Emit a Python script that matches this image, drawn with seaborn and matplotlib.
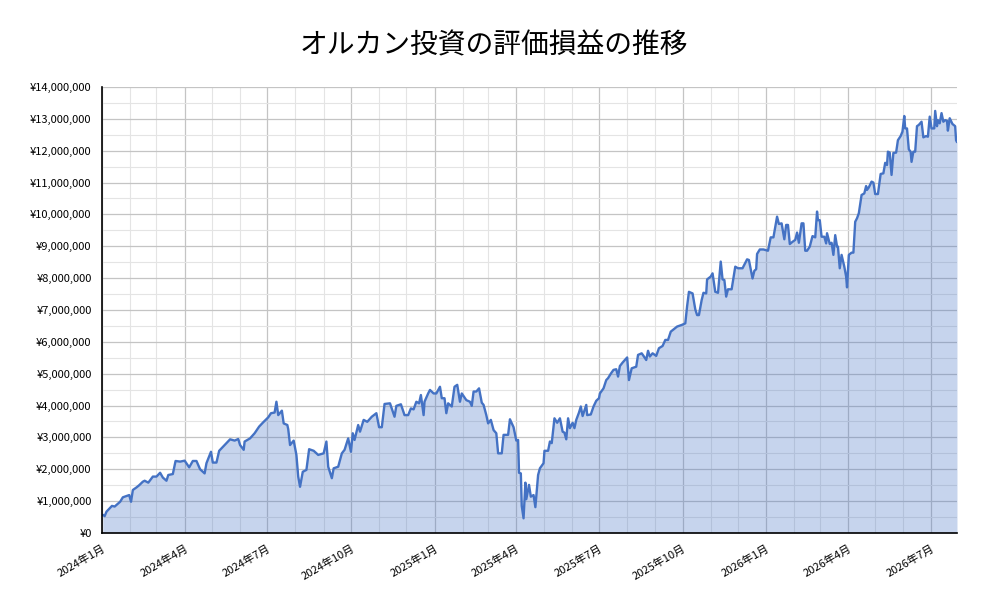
"""
オルカン投資の評価損益の推移 - area chart of unrealised profit/loss
"""

import pandas as pd
import numpy as np
import matplotlib
matplotlib.use('Agg')
import matplotlib.pyplot as plt
import matplotlib.dates as mdates
import matplotlib.ticker as mticker
import seaborn as sns

# days since 2024-01-01 and profit/loss in millions of yen
start_date = '2024-01-01'
days = [
    1, 3, 5, 11, 14, 20, 23, 30, 32, 34, 38, 41, 45, 47, 51, 56, 60, 64, 67, 71,
    73, 78, 81, 86, 91, 96, 100, 104, 108, 113, 115, 120, 122, 126, 129, 135, 141, 146, 150, 152,
    156, 157, 163, 168, 173, 178, 183, 186, 190, 192, 194, 198, 200, 204, 205, 207, 211, 214, 216, 218,
    221, 225, 228, 233, 238, 244, 247, 249, 253, 255, 260, 264, 267, 271, 274, 276, 278, 282, 284, 288,
    292, 297, 302, 305, 308, 311, 317, 322, 324, 329, 333, 337, 340, 343, 346, 349, 351, 354, 355, 359,
    361, 365, 368, 372, 374, 377, 379, 381, 385, 388, 391, 394, 396, 401, 405, 407, 409, 412, 415, 418,
    420, 423, 425, 428, 431, 434, 436, 440, 442, 447, 449, 453, 456, 458, 459, 461, 462, 464, 466, 467,
    470, 472, 475, 477, 480, 482, 486, 487, 491, 493, 495, 498, 501, 504, 507, 509, 511, 513, 515, 518,
    520, 522, 525, 527, 529, 533, 534, 538, 541, 544, 547, 548, 552, 555, 557, 560, 563, 566, 568, 570,
    573, 577, 578, 580, 583, 588, 590, 594, 596, 599, 601, 603, 606, 610, 613, 617, 620, 623, 626, 629,
    633, 638, 642, 644, 646, 650, 653, 655, 657, 660, 662, 665, 666, 670, 672, 675, 678, 681, 683, 685,
    687, 689, 693, 697, 700, 705, 710, 712, 716, 718, 720, 721, 724, 728, 733, 736, 739, 743, 745, 748,
    751, 753, 755, 757, 760, 763, 765, 767, 770, 772, 774, 776, 779, 782, 785, 787, 788, 790, 792, 795,
    797, 798, 801, 803, 805, 807, 809, 810, 812, 814, 817, 819, 820, 822, 825, 827, 829, 831, 833, 836,
    839, 841, 842, 844, 847, 849, 851, 854, 857, 860, 862, 864, 865, 867, 869, 871, 874, 876, 879, 881,
    883, 884, 886, 888, 890, 891, 893, 895, 897, 899, 902, 904, 907, 909, 911, 913, 916, 917, 919, 920,
    922, 924, 926, 928, 930, 931, 933, 936, 939, 940, 941,
]
values_m = [
    0.57, 0.53, 0.67, 0.85, 0.83, 0.98, 1.12, 1.19, 0.98, 1.35, 1.43, 1.50, 1.61, 1.64, 1.58, 1.77, 1.77, 1.89, 1.74, 1.64,
    1.82, 1.85, 2.26, 2.24, 2.27, 2.06, 2.26, 2.26, 2.00, 1.87, 2.19, 2.55, 2.21, 2.21, 2.58, 2.76, 2.94, 2.90, 2.95, 2.76,
    2.61, 2.87, 2.97, 3.13, 3.34, 3.49, 3.63, 3.76, 3.78, 4.12, 3.70, 3.84, 3.44, 3.39, 3.26, 2.76, 2.90, 2.45, 1.77, 1.45,
    1.92, 1.98, 2.63, 2.58, 2.45, 2.50, 2.87, 2.08, 1.72, 2.03, 2.08, 2.50, 2.61, 2.97, 2.55, 3.13, 2.92, 3.39, 3.18, 3.55,
    3.49, 3.65, 3.76, 3.32, 3.32, 4.05, 4.07, 3.65, 3.99, 4.04, 3.70, 3.70, 3.91, 3.88, 4.12, 4.07, 4.33, 3.70, 4.12, 4.38,
    4.49, 4.38, 4.38, 4.59, 4.23, 4.23, 3.76, 4.07, 3.97, 4.59, 4.65, 4.12, 4.38, 4.17, 4.12, 3.99, 4.44, 4.44, 4.54, 4.09,
    4.02, 3.70, 3.44, 3.55, 3.23, 3.13, 2.50, 2.50, 3.08, 3.08, 3.57, 3.32, 2.90, 2.92, 1.89, 1.87, 0.85, 0.46, 1.58, 1.06,
    1.51, 1.14, 1.19, 0.81, 1.82, 2.03, 2.19, 2.58, 2.58, 2.87, 2.82, 3.60, 3.46, 3.60, 3.18, 3.15, 2.94, 3.60, 3.29, 3.46,
    3.29, 3.55, 3.78, 3.97, 3.67, 4.02, 3.70, 3.72, 3.97, 4.15, 4.23, 4.38, 4.54, 4.80, 4.86, 5.00, 5.12, 5.14, 4.91, 5.24,
    5.35, 5.48, 5.51, 4.80, 5.17, 5.22, 5.59, 5.64, 5.56, 5.43, 5.72, 5.54, 5.64, 5.56, 5.80, 5.87, 6.06, 6.06, 6.32, 6.39,
    6.48, 6.53, 6.58, 7.12, 7.57, 7.52, 7.02, 6.84, 6.84, 7.31, 7.54, 7.52, 7.96, 8.05, 8.15, 7.57, 7.54, 8.52, 7.96, 7.94,
    7.42, 7.65, 7.65, 8.36, 8.31, 8.31, 8.59, 8.57, 7.99, 8.23, 8.28, 8.76, 8.90, 8.90, 8.86, 9.28, 9.28, 9.93, 9.70, 9.72,
    9.22, 9.67, 9.67, 9.07, 9.14, 9.20, 9.43, 9.11, 9.72, 9.72, 8.86, 8.86, 8.99, 9.32, 9.28, 10.09, 9.82, 9.82, 9.30, 9.30,
    9.09, 9.41, 9.07, 9.11, 8.73, 9.35, 8.99, 8.99, 8.31, 8.73, 8.36, 8.05, 7.71, 8.73, 8.80, 8.80, 9.77, 9.88, 10.04, 10.61,
    10.66, 10.89, 10.77, 10.85, 11.03, 11.00, 10.64, 10.64, 11.27, 11.29, 11.62, 11.55, 11.97, 11.94, 11.24, 11.93, 11.94, 12.33, 12.46, 12.60,
    13.09, 12.70, 12.70, 12.04, 11.97, 11.65, 11.97, 11.97, 12.77, 12.81, 12.91, 12.42, 12.46, 12.44, 13.07, 12.70, 12.70, 13.25, 12.77, 12.96,
    12.86, 13.18, 12.91, 12.96, 12.94, 12.63, 13.02, 12.84, 12.77, 12.33, 12.27,
]

title = 'オルカン投資の評価損益の推移'
line_color = '#4472C4'

sns.set_style('white')
plt.rcParams['font.family'] = ['Noto Sans CJK JP', 'DejaVu Sans']
plt.rcParams['text.color'] = 'black'
plt.rcParams['xtick.color'] = 'black'
plt.rcParams['ytick.color'] = 'black'

df = pd.DataFrame({
    'date': pd.to_datetime(start_date) + pd.to_timedelta(days, unit='D'),
    'pl': np.array(values_m) * 1_000_000,
})

fig = plt.figure(figsize=(9.88, 6.11), dpi=100)
ax = fig.add_axes([0.1032, 0.1277, 0.8654, 0.7299])

sns.lineplot(data=df, x='date', y='pl', ax=ax, color=line_color, linewidth=1.7)
ax.fill_between(df['date'], df['pl'], 0, color=line_color, alpha=0.3, linewidth=0)

ax.set_xlim(pd.Timestamp(start_date), df['date'].iloc[-1])
ax.set_ylim(0, 14_000_000)

# x axis: quarterly labels, monthly minor ticks
ax.xaxis.set_major_locator(mdates.MonthLocator(bymonth=[1, 4, 7, 10]))
ax.xaxis.set_minor_locator(mdates.MonthLocator())
ax.xaxis.set_major_formatter(mticker.FuncFormatter(
    lambda x, pos: f'{mdates.num2date(x).year}年{mdates.num2date(x).month}月'))
plt.setp(ax.get_xticklabels(), rotation=30, ha='right', rotation_mode='anchor')

# y axis: yen values
ax.yaxis.set_major_locator(mticker.MultipleLocator(1_000_000))
ax.yaxis.set_minor_locator(mticker.MultipleLocator(500_000))
ax.yaxis.set_major_formatter(mticker.FuncFormatter(lambda v, pos: f'¥{v:,.0f}'))

ax.set_axisbelow(True)
ax.grid(which='major', color='#C4C4C4', linewidth=0.9)
ax.grid(which='minor', color='#E4E4E4', linewidth=0.8)

ax.tick_params(axis='both', which='major', direction='inout', length=8, width=1,
               labelsize=8, color='black', labelcolor='black')
ax.tick_params(axis='x', which='minor', direction='inout', length=6, width=1, color='black')
ax.tick_params(axis='y', which='minor', length=0)

for side in ['top', 'right']:
    ax.spines[side].set_visible(False)
for side in ['left', 'bottom']:
    ax.spines[side].set_color('black')
    ax.spines[side].set_linewidth(1.2)

ax.set_xlabel('')
ax.set_ylabel('')
fig.suptitle(title, fontsize=20, y=0.95, color='black')

plt.savefig('out.png', dpi=100)
print("Saved: out.png")
